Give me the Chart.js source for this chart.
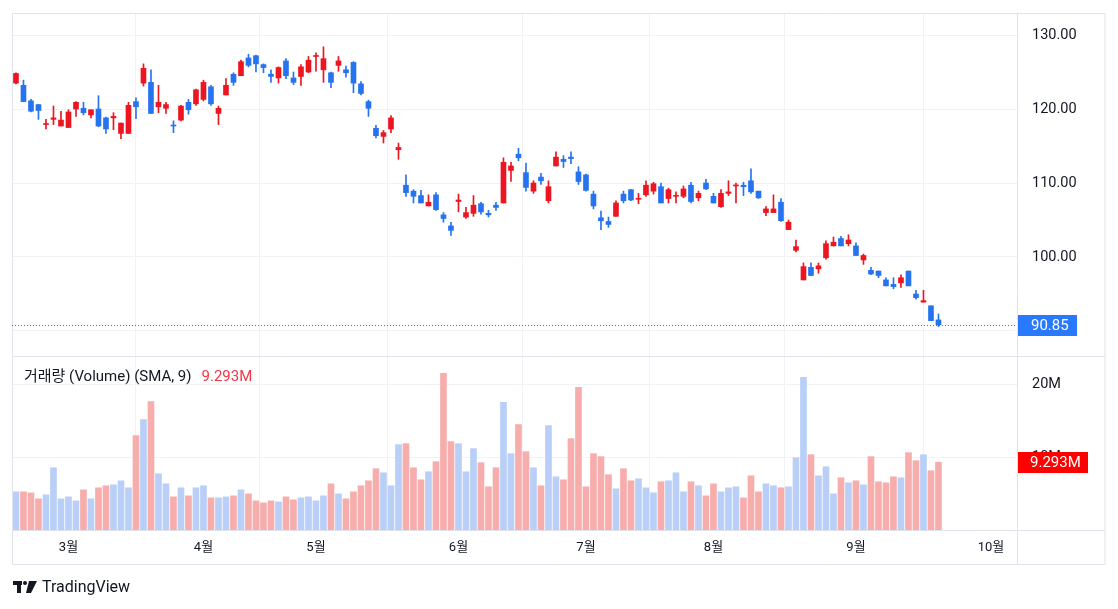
<!DOCTYPE html>
<html><head><meta charset="utf-8">
<script src="https://cdn.jsdelivr.net/npm/chart.js@4.4.1/dist/chart.umd.min.js"></script>
<style>html,body{margin:0;padding:0;background:#fff;}canvas{display:block;}</style>
</head><body>
<canvas id="c" width="1118" height="609"></canvas>
<script>
// ---- data ----
const monthLabels = ['3월','4월','5월','6월','7월','8월','9월','10월'];
const monthIndex  = [7, 25, 40, 59, 76, 93, 112, 130];
const priceTicks  = [90, 100, 110, 120, 130];
const volumeTicks = [10, 20]; // millions

const open = [123.5,123.2,121.1,120.6,117.9,118.6,117.7,117.5,120.0,120.1,
119.2,120.0,118.8,118.8,116.7,116.7,121.0,123.5,123.6,120.3,
120.1,117.8,118.5,120.9,120.7,121.3,123.0,119.4,121.9,124.7,
124.5,126.9,127.2,126.0,124.7,124.2,126.5,124.2,124.4,125.0,
127.1,125.3,124.9,125.9,125.3,126.3,123.4,121.0,117.4,116.3,
117.3,114.5,109.7,108.9,108.3,106.9,108.4,105.7,104.2,107.5,
105.4,105.9,107.2,105.9,107.0,107.3,111.7,113.9,111.4,108.9,
110.8,107.6,112.3,113.2,113.5,111.5,111.1,108.5,105.3,104.8,
105.5,108.5,109.1,107.8,108.4,108.9,109.5,107.9,108.2,108.2,
109.7,108.0,110.0,108.2,106.8,108.6,109.6,109.7,110.3,108.9,
106.0,106.0,107.4,103.7,100.9,96.9,98.6,98.4,99.9,101.5,
102.5,101.8,101.5,99.6,98.2,98.1,96.9,96.3,96.5,98.1,
95.0,93.9,93.4,91.5];
const high = [124.9,123.9,121.3,120.6,118.6,120.4,119.7,119.9,121.0,120.9,
119.9,121.8,118.9,119.5,118.1,120.9,121.5,126.1,125.3,123.2,
120.9,118.4,120.5,121.3,122.7,123.9,123.2,120.4,124.1,124.9,
126.6,127.4,127.3,126.1,125.3,125.7,126.8,125.0,126.0,127.1,
127.6,128.4,125.0,127.1,125.8,126.4,123.7,121.2,117.8,117.1,
119.1,115.4,111.1,109.1,109.0,108.4,108.7,106.0,104.7,108.5,
106.7,108.3,107.4,106.3,107.4,113.4,112.8,114.7,112.7,110.3,
111.3,110.3,114.2,113.7,114.2,112.2,111.2,108.9,106.2,105.4,
107.6,108.9,109.1,108.6,110.3,110.1,110.0,109.3,108.8,109.6,
110.1,108.9,110.5,108.6,109.1,110.3,110.0,110.1,111.9,108.9,
106.8,108.4,107.9,105.0,102.3,99.2,99.2,99.2,102.2,102.7,
102.8,103.0,101.9,100.4,98.6,98.1,97.2,97.2,97.6,98.1,
95.5,95.5,93.4,92.3];
const low = [123.4,121.0,119.6,118.6,117.3,117.9,117.7,117.5,119.0,119.2,
118.8,117.6,116.7,117.2,116.0,116.7,118.7,123.1,119.4,119.5,
119.4,116.8,118.4,119.3,120.5,121.1,120.5,117.9,121.9,123.2,
124.5,125.7,125.0,124.9,123.6,123.5,124.1,123.3,123.2,124.9,
125.1,123.6,122.9,125.1,124.3,122.2,121.9,119.0,116.1,115.4,
116.8,113.2,108.2,107.3,107.3,106.9,106.3,104.7,102.9,106.1,
105.2,105.5,105.8,105.4,106.3,107.3,110.2,113.0,108.9,108.6,
109.8,107.3,112.3,112.1,112.6,109.8,108.9,106.5,103.7,104.0,
105.5,107.3,107.6,107.2,108.2,108.5,107.3,107.3,107.3,108.0,
107.3,107.6,109.1,107.3,106.7,108.3,107.3,108.3,108.6,107.9,
105.6,106.0,104.8,103.7,100.7,96.9,97.5,97.8,99.7,101.5,
101.5,101.5,100.2,99.0,97.6,97.2,96.1,95.7,95.9,96.1,
94.3,93.9,91.4,90.6];
const close = [124.8,121.0,119.7,119.8,118.0,118.8,118.5,119.6,120.9,119.5,
119.9,117.7,117.3,119.0,118.1,120.5,120.3,125.5,119.4,120.9,
120.6,117.7,120.4,119.9,122.6,123.6,120.7,120.1,123.2,123.6,
126.4,125.9,126.1,125.6,124.4,125.6,124.5,123.6,125.7,126.6,
127.2,126.8,123.6,126.5,124.9,123.5,122.1,120.1,116.4,116.8,
118.8,114.8,108.7,108.2,107.3,107.4,106.4,105.2,103.6,107.7,
106.0,107.0,106.1,105.7,106.7,112.8,112.3,113.4,109.4,110.0,
110.3,109.5,113.5,112.9,113.3,110.2,109.0,106.9,104.9,104.4,
107.3,107.6,107.7,107.9,109.7,109.9,107.3,109.1,108.3,109.2,
107.5,108.6,109.2,107.3,108.6,108.8,109.7,109.5,108.8,108.0,
106.5,106.5,104.9,104.7,101.4,98.7,97.5,98.8,101.8,102.0,
101.5,102.3,100.2,100.2,97.7,97.5,96.1,96.0,97.2,96.1,
94.5,94.1,91.4,90.85];
const volume = [5.23,5.23,5.09,4.27,4.82,8.53,4.27,4.54,3.99,5.50,
4.27,5.78,6.06,6.19,6.74,5.78,12.94,15.14,17.6,7.71,
6.33,4.54,5.78,4.68,5.78,6.06,4.40,4.40,4.54,4.68,
5.50,4.95,3.99,3.72,3.99,3.85,4.54,4.13,4.40,4.54,
3.99,4.68,6.33,4.95,4.27,5.23,6.06,6.74,8.39,7.84,
6.06,11.70,11.83,8.53,6.88,7.98,9.36,21.47,12.11,11.83,
7.98,11.15,9.22,5.92,8.53,17.48,10.46,14.45,10.73,8.53,
6.06,14.31,7.29,6.88,12.52,19.54,5.92,10.46,10.05,7.57,
5.64,8.39,6.74,7.02,5.78,5.09,6.61,6.74,7.84,5.23,
6.61,6.06,4.68,6.33,5.23,5.78,5.92,4.40,7.43,5.23,
6.33,6.06,5.78,5.92,9.91,20.92,10.32,7.43,8.67,4.95,
7.16,6.47,6.74,6.19,10.05,6.61,6.47,7.29,7.16,10.60,
9.50,10.32,8.12,9.293];

// ---- styles ----
const UP = '#ec1620', DOWN = '#2673f0';
const VUP = '#b9cff7', VDOWN = '#f8adad';
const GRID = '#f0f2f5', LINE = '#e0e3eb', TXT = '#131722';
const FONT = 'Roboto, "Noto Sans CJK KR", sans-serif';

const idx = close.map((_, i) => i);
const isUp = i => close[i] >= open[i];

const noPadV = s => { s.width = 88; s.paddingTop = 0; s.paddingBottom = 0; };

const overlay = {
  id: 'overlay',
  afterDraw(chart) {
    const ctx = chart.ctx, ca = chart.chartArea;
    const y = chart.scales.y, yv = chart.scales.yv;
    const W = chart.width;
    ctx.save();
    // frame lines
    ctx.strokeStyle = LINE; ctx.lineWidth = 1;
    ctx.beginPath();
    ctx.rect(ca.left + 0.5, ca.top - 0.5, (W - 13) - ca.left - 0.5, 565 - ca.top);
    ctx.moveTo(ca.right + 0.5, ca.top); ctx.lineTo(ca.right + 0.5, 565);
    ctx.moveTo(ca.left, Math.round(y.bottom) + 0.5); ctx.lineTo(W - 13, Math.round(y.bottom) + 0.5);
    ctx.moveTo(ca.left, ca.bottom + 0.5); ctx.lineTo(W - 13, ca.bottom + 0.5);
    ctx.stroke();
    // last price dotted line
    const last = close.length - 1;
    const py = Math.round(y.getPixelForValue(close[last])) + 0.5;
    ctx.strokeStyle = DOWN; ctx.setLineDash([1, 2]);
    ctx.beginPath(); ctx.moveTo(ca.left, py); ctx.lineTo(ca.right, py); ctx.stroke();
    ctx.setLineDash([]);
    // last price label
    ctx.fillStyle = '#2979ff';
    ctx.fillRect(ca.right + 1, py - 10.5, 59, 21);
    ctx.fillStyle = '#fff'; ctx.font = '15px ' + FONT; ctx.textBaseline = 'middle'; ctx.textAlign = 'left';
    ctx.fillText(close[last].toFixed(2), ca.right + 14, py + 1);
    // last volume label
    const vy = Math.round(yv.getPixelForValue(volume[last]));
    ctx.fillStyle = '#ff0000';
    ctx.fillRect(ca.right + 1, vy - 10, 70, 21);
    ctx.fillStyle = '#fff';
    ctx.fillText(volume[last].toFixed(3) + 'M', ca.right + 13, vy + 1);
    // legend
    ctx.fillStyle = TXT; ctx.font = '15px ' + FONT;
    const t = '거래량 (Volume) (SMA, 9)';
    ctx.fillText(t, 24, 377);
    const tw = ctx.measureText(t).width;
    ctx.fillStyle = '#f23645';
    ctx.fillText(volume[last].toFixed(3) + 'M', 24 + tw + 10, 377);
    // TradingView logo
    ctx.fillStyle = TXT;
    ctx.fillRect(13, 581, 9, 4);
    ctx.fillRect(17, 581, 4, 12);
    ctx.beginPath(); ctx.arc(25, 583, 2, 0, Math.PI * 2); ctx.fill();
    ctx.beginPath(); ctx.moveTo(29, 581); ctx.lineTo(37, 581); ctx.lineTo(31, 593); ctx.lineTo(26, 593); ctx.closePath(); ctx.fill();
    ctx.font = '16px ' + FONT; ctx.fillText('TradingView', 42, 588);
    ctx.restore();
  }
};

new Chart(document.getElementById('c'), {
  type: 'bar',
  data: {
    datasets: [
      { label: 'wick', yAxisID: 'y', grouped: false, barThickness: 1,
        data: idx.map(i => ({ x: i, y: [low[i], high[i]] })),
        backgroundColor: c => isUp(c.dataIndex) ? UP : DOWN, borderWidth: 0, order: 2 },
      { label: 'body', yAxisID: 'y', grouped: false, barThickness: 5, minBarLength: 1,
        data: idx.map(i => ({ x: i, y: [open[i], close[i]] })),
        backgroundColor: c => isUp(c.dataIndex) ? UP : DOWN, borderWidth: 0, order: 1 },
      { label: 'volume', yAxisID: 'yv', grouped: false, barThickness: 6,
        data: idx.map(i => ({ x: i, y: volume[i] })),
        backgroundColor: c => isUp(c.dataIndex) ? VUP : VDOWN, borderWidth: 0, order: 3 }
    ]
  },
  options: {
    responsive: false, animation: false,
    layout: { padding: { left: 12, right: 13, top: 14, bottom: 44 } },
    plugins: { legend: { display: false }, tooltip: { enabled: false } },
    scales: {
      x: {
        type: 'linear', position: 'bottom', min: -0.53, max: 133.47, offset: false,
        afterBuildTicks: s => { s.ticks = monthIndex.map(v => ({ value: v })); },
        afterFit: s => { s.height = 35; s.paddingLeft = 0; s.paddingRight = 0; },
        ticks: { autoSkip: false, maxRotation: 0, padding: 10, color: TXT,
          font: { size: 13, family: FONT },
          callback: v => { const k = monthIndex.indexOf(v); return k >= 0 ? monthLabels[k] : ''; } },
        grid: { color: GRID, drawTicks: false }, border: { display: false }
      },
      y: {
        type: 'linear', position: 'right', stack: 'pane', stackWeight: 342,
        min: 86.62, max: 132.84,
        afterBuildTicks: s => { s.ticks = priceTicks.map(v => ({ value: v })); },
        afterFit: noPadV,
        ticks: { padding: 15, color: TXT, font: { size: 14.5, family: FONT }, callback: v => v.toFixed(2) },
        grid: { color: GRID, drawTicks: false }, border: { display: false }
      },
      yv: {
        type: 'linear', position: 'right', stack: 'pane', stackWeight: 174,
        min: 0, max: 23.84,
        afterBuildTicks: s => { s.ticks = volumeTicks.map(v => ({ value: v })); },
        afterFit: noPadV,
        ticks: { padding: 15, color: TXT, font: { size: 14.5, family: FONT }, callback: v => v + 'M' },
        grid: { color: GRID, drawTicks: false }, border: { display: false }
      }
    }
  },
  plugins: [overlay]
});
</script>
</body></html>
